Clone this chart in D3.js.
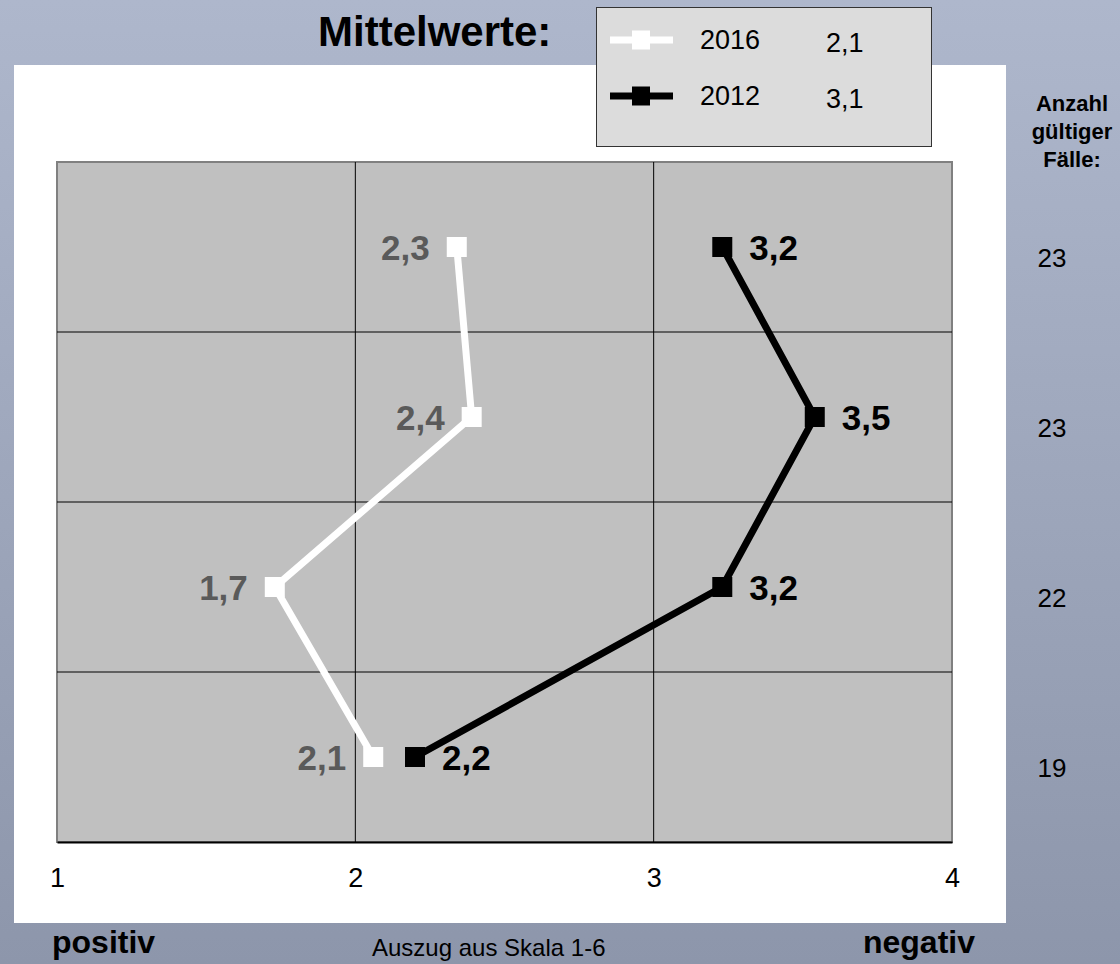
<html><head>
<meta charset="UTF-8">
<title>Mittelwerte</title>
<script src="https://cdn.jsdelivr.net/npm/d3@7"></script>
<style>
  body { margin: 0; }
  svg text { font-family: "Liberation Sans", Arial, sans-serif; }
</style>
</head>
<body>
<div id="chart"></div>
<script>
// data (one row per item, top to bottom)
const items = ["1", "2", "3", "4"];
const values2016 = [2.34, 2.39, 1.73, 2.06];
const values2012 = [3.23, 3.54, 3.23, 2.20];
const counts = [23, 23, 22, 19];
const xTicks = [1, 2, 3, 4];
const seriesNames = ["2016", "2012"];
const seriesMeans = [2.1, 3.1];

const W = 1120, H = 964;
const fmt = d => d3.format(".1f")(d).replace(".", ",");

const svg = d3.select("#chart").append("svg")
    .attr("width", W)
    .attr("height", H);

// background gradient
const grad = svg.append("defs").append("linearGradient")
    .attr("id", "bg").attr("x1", 0).attr("y1", 0).attr("x2", 0).attr("y2", 1);
grad.append("stop").attr("offset", "0%").attr("stop-color", "#aeb7cc");
grad.append("stop").attr("offset", "100%").attr("stop-color", "#8d96ab");
svg.append("rect").attr("width", W).attr("height", H).attr("fill", "url(#bg)");

// white panel
svg.append("rect")
    .attr("x", 14).attr("y", 65)
    .attr("width", 992).attr("height", 858)
    .attr("fill", "#fff");

const plot = {left: 57, right: 952, top: 162, bottom: 842};

const x = d3.scaleLinear().domain([1, 4]).range([plot.left, plot.right]);
const y = d3.scaleBand().domain(items).range([plot.top, plot.bottom]);
const yc = i => y(items[i]) + y.bandwidth() / 2;

// plot area
svg.append("rect")
    .attr("x", plot.left).attr("y", plot.top)
    .attr("width", plot.right - plot.left).attr("height", plot.bottom - plot.top)
    .attr("fill", "#c0c0c0")
    .attr("stroke", "#808080")
    .attr("stroke-width", 2);

// grid
const grid = svg.append("g").attr("stroke", "#000").attr("stroke-width", 1);
grid.selectAll(".vg")
    .data(xTicks.slice(1, -1))
  .enter().append("line")
    .attr("x1", d => x(d)).attr("x2", d => x(d))
    .attr("y1", plot.top).attr("y2", plot.bottom);
grid.selectAll(".hg")
    .data(items.slice(1))
  .enter().append("line")
    .attr("x1", plot.left).attr("x2", plot.right)
    .attr("y1", d => y(d)).attr("y2", d => y(d));

// bottom axis
const axis = svg.append("g")
    .attr("transform", `translate(0,${plot.bottom})`)
    .call(d3.axisBottom(x).tickValues(xTicks).tickSize(0).tickPadding(26).tickFormat(d3.format("d")));
axis.select(".domain").attr("stroke", "#000").attr("stroke-width", 2);
axis.selectAll("text")
    .attr("font-size", 27)
    .attr("fill", "#000")
    .style("font-family", "'Liberation Sans', Arial, sans-serif");

// series
const line = d3.line()
    .x(d => x(d[0]))
    .y(d => d[1]);

function drawSeries(values, color, labelColor, side) {
  const pts = values.map((v, i) => [v, yc(i)]);
  svg.append("path")
      .datum(pts)
      .attr("d", line)
      .attr("fill", "none")
      .attr("stroke", color)
      .attr("stroke-width", 7)
      .attr("stroke-linejoin", "miter");
  svg.selectAll(null)
      .data(pts)
    .enter().append("rect")
      .attr("x", d => x(d[0]) - 10)
      .attr("y", d => d[1] - 10)
      .attr("width", 20).attr("height", 20)
      .attr("fill", color);
  svg.selectAll(null)
      .data(pts)
    .enter().append("text")
      .attr("x", d => x(d[0]) + side * 27)
      .attr("y", d => d[1])
      .attr("dy", "0.36em")
      .attr("text-anchor", side < 0 ? "end" : "start")
      .attr("font-size", 35)
      .attr("font-weight", "bold")
      .attr("fill", labelColor)
      .text(d => fmt(d[0]));
}
drawSeries(values2016, "#fff", "#5a5a5a", -1);
drawSeries(values2012, "#000", "#000", 1);

// title
svg.append("text")
    .attr("x", 318).attr("y", 46)
    .attr("font-size", 42)
    .attr("font-weight", "bold")
    .text("Mittelwerte:");

// legend
const legend = svg.append("g");
legend.append("rect")
    .attr("x", 596.5).attr("y", 7.5)
    .attr("width", 335).attr("height", 139)
    .attr("fill", "#dcdcdc")
    .attr("stroke", "#333")
    .attr("stroke-width", 1);
const legendColors = ["#fff", "#000"];
const ly = d3.scalePoint().domain(seriesNames).range([40, 96]);
seriesNames.forEach((name, i) => {
  const g = legend.append("g").attr("transform", `translate(0,${ly(name)})`);
  g.append("line")
      .attr("x1", 610).attr("x2", 673)
      .attr("stroke", legendColors[i]).attr("stroke-width", 7);
  g.append("rect")
      .attr("x", 632).attr("y", -9.5)
      .attr("width", 18).attr("height", 19)
      .attr("fill", legendColors[i]);
  g.append("text")
      .attr("x", 700).attr("y", 0).attr("dy", "0.33em")
      .attr("font-size", 27)
      .text(name);
  g.append("text")
      .attr("x", 826).attr("y", 2).attr("dy", "0.36em")
      .attr("font-size", 27)
      .text(fmt(seriesMeans[i]));
});

// right side: number of valid cases
const side = svg.append("text")
    .attr("text-anchor", "middle")
    .attr("font-size", 22)
    .attr("font-weight", "bold");
["Anzahl", "gültiger", "Fälle:"].forEach((t, i) => {
  side.append("tspan").attr("x", 1072).attr("y", 111 + i * 28).text(t);
});
svg.selectAll(".count")
    .data(counts)
  .enter().append("text")
    .attr("class", "count")
    .attr("x", 1052)
    .attr("y", (d, i) => yc(i) + 11)
    .attr("dy", "0.36em")
    .attr("text-anchor", "middle")
    .attr("font-size", 26)
    .text(d => d);

// bottom captions
svg.append("text")
    .attr("x", 52).attr("y", 953)
    .attr("font-size", 32).attr("font-weight", "bold")
    .text("positiv");
svg.append("text")
    .attr("x", 372).attr("y", 956)
    .attr("font-size", 24)
    .text("Auszug aus Skala 1-6");
svg.append("text")
    .attr("x", 975).attr("y", 953)
    .attr("text-anchor", "end")
    .attr("font-size", 32).attr("font-weight", "bold")
    .text("negativ");
</script>
</body></html>
